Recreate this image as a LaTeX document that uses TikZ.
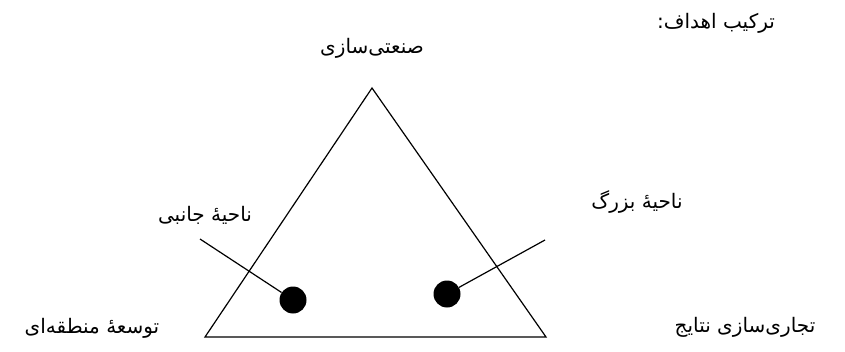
\documentclass[tikz,border=0pt]{standalone}
\usepackage{fontspec}
\newfontfamily\arabicfont[Script=Arabic]{DejaVu Sans}
\TeXXeTstate=1
\tikzset{
  lbl/.style={font=\arabicfont\fontsize{20}{24}\selectfont, inner sep=0pt},
  edge/.style={line width=1.2pt, line join=miter},
  dot/.style={circle, fill=black, minimum size=27pt, inner sep=0pt},
  lead/.style={line width=1.2pt}
}
\begin{document}
\begin{tikzpicture}[x=1pt,y=1pt]
\useasboundingbox (0,0) rectangle (845,351);
% triangle
\coordinate (apex) at (372,263);
\coordinate (bl) at (205,14);
\coordinate (br) at (546,14);
\draw[edge] (apex) -- (bl) -- (br) -- cycle;
% dots
\node[dot] (dl) at (293,51) {};
\node[dot] (dr) at (447,57) {};
% leader lines
\coordinate (ll) at (200,112);
\coordinate (rl) at (545,111);
\draw[lead] (ll) -- (dl);
\draw[lead] (rl) -- (dr);
% labels
\node[lbl] (title) at (716,328) {\beginR ترکیب اهداف:\endR};
\node[lbl] (top) at (372,303) {\beginR صنعتی‌سازی\endR};
\node[lbl] (big) at (637,149) {\beginR ناحیهٔ بزرگ\endR};
\node[lbl] (side) at (205,136) {\beginR ناحیهٔ جانبی\endR};
\node[lbl] (reg) at (92,23) {\beginR توسعهٔ منطقه‌ای\endR};
\node[lbl] (com) at (745,24) {\beginR تجاری‌سازی نتایج\endR};
\end{tikzpicture}
\end{document}
